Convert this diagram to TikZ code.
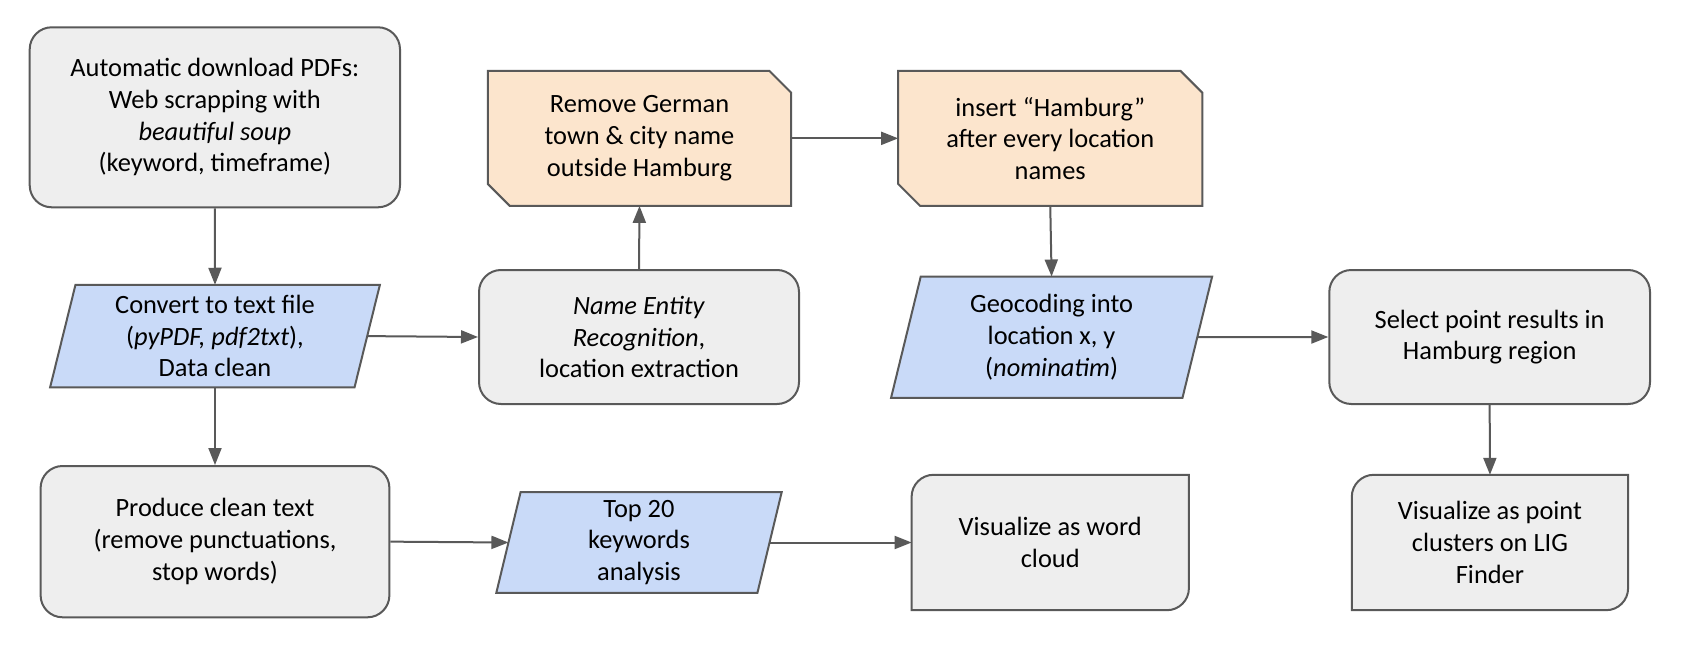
\documentclass[tikz,border=0pt]{standalone}
\usepackage{fontspec}
\setmainfont{Carlito}
\usetikzlibrary{arrows.meta,calc,backgrounds}
\definecolor{edgecol}{HTML}{595959}
\definecolor{grayfill}{HTML}{EEEEEE}
\definecolor{bluefill}{HTML}{C9DAF8}
\definecolor{peachfill}{HTML}{FCE5CD}
\newcommand{\drawpara}[2]{%
  \draw[shapeline, fill=bluefill] ($(#1.north west)+(#2,0)$) -- ($(#1.north east)+(#2,0)$) -- ($(#1.south east)+(-#2,0)$) -- ($(#1.south west)+(-#2,0)$) -- cycle;}
\newcommand{\drawsnip}[1]{%
  \draw[shapeline, fill=peachfill] (#1.north west) -- ($(#1.north east)+(-22,0)$) -- ($(#1.north east)+(0,22)$) -- (#1.south east) -- ($(#1.south west)+(22,0)$) -- ($(#1.south west)+(0,-22)$) -- cycle;}
\newcommand{\drawleaf}[1]{%
  \draw[shapeline, fill=grayfill] ($(#1.north west)+(22,0)$) -- (#1.north east) -- ($(#1.south east)+(0,-22)$) .. controls ($(#1.south east)+(0,-9.85)$) and ($(#1.south east)+(-9.85,0)$) .. ($(#1.south east)+(-22,0)$) -- (#1.south west) -- ($(#1.north west)+(0,22)$) .. controls ($(#1.north west)+(0,9.85)$) and ($(#1.north west)+(9.85,0)$) .. ($(#1.north west)+(22,0)$) -- cycle;}
\begin{document}
\begin{tikzpicture}[x=1pt,y=-1pt,
  shapeline/.style={draw=edgecol, line width=2pt},
  txt/.style={font=\fontsize{26.4}{31.7}\selectfont, align=center, text=black, inner sep=0pt},
  rbox/.style={txt, shapeline, fill=grayfill, rounded corners=22pt},
  plain/.style={txt},
  arr/.style={draw=edgecol, line width=2pt, -{Triangle[length=17pt,width=13pt]}}
]
\useasboundingbox (0,0) rectangle (1696,660);

\node[rbox, minimum width=370.3pt, minimum height=180pt] (dl) at (214.85,117.3)
  {Automatic download PDFs:\\Web scrapping with\\\textit{beautiful soup}\\(keyword, timeframe)};
\node[plain, minimum width=304pt, minimum height=102.3pt] (conv) at (215,336.1)
  {Convert to text file\\(\textit{pyPDF, pdf2txt}),\\Data clean};
\node[rbox, minimum width=320pt, minimum height=134pt] (ner) at (639,337)
  {\textit{Name Entity}\\\textit{Recognition},\\location extraction};
\node[plain, minimum width=303pt, minimum height=134.7pt] (remove) at (639.5,138.35)
  {Remove German\\town \& city name\\outside Hamburg};
\node[plain, minimum width=303.9pt, minimum height=134.7pt] (insert) at (1050.25,138.35)
  {insert “Hamburg”\\after every location\\names};
\node[plain, minimum width=291pt, minimum height=121pt] (geo) at (1051.6,337.2)
  {Geocoding into\\location x, y\\(\textit{nominatim})};
\node[rbox, minimum width=320.7pt, minimum height=134pt] (select) at (1489.65,337)
  {Select point results in\\Hamburg region};
\node[rbox, minimum width=348.8pt, minimum height=151.3pt] (produce) at (215,541.65)
  {Produce clean text\\(remove punctuations,\\stop words)};
\node[plain, minimum width=260.7pt, minimum height=100.4pt] (top) at (639,542.5)
  {Top 20\\keywords\\analysis};
\node[plain, minimum width=276.9pt, minimum height=135pt] (cloud) at (1050.25,542.5)
  {Visualize as word\\cloud};
\node[plain, minimum width=275.9pt, minimum height=135pt] (cluster) at (1489.95,542.5)
  {Visualize as point\\clusters on LIG\\Finder};

\begin{scope}[on background layer]
  \fill[white] (0,0) rectangle (1696,660);
  \drawpara{conv}{12.7}
  \drawpara{geo}{14.85}
  \drawpara{top}{12.15}
  \drawsnip{remove}
  \drawsnip{insert}
  \drawleaf{cloud}
  \drawleaf{cluster}
\end{scope}

\draw[arr] (dl.south) -- (conv.north);
\draw[arr] (conv.east) -- (ner.west);
\draw[arr] (ner.north) -- (remove.south);
\draw[arr] (remove.east) -- (insert.west);
\draw[arr] (insert.south) -- (geo.north);
\draw[arr] (geo.east) -- (select.west);
\draw[arr] (select.south) -- (cluster.north);
\draw[arr] (conv.south) -- (produce.north);
\draw[arr] (produce.east) -- (top.west);
\draw[arr] (top.east) -- (cloud.west);
\end{tikzpicture}
\end{document}
